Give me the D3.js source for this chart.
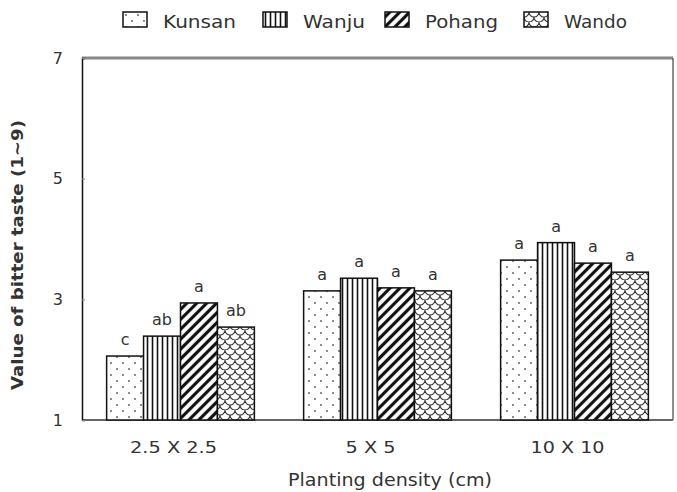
<!DOCTYPE html>
<html>
<head>
<meta charset="utf-8">
<script src="https://cdn.jsdelivr.net/npm/d3@7"></script>
<style>
  body { margin: 0; background: #fff; }
  text { font-family: "DejaVu Sans", "Liberation Sans", sans-serif; fill: #333; }
</style>
</head>
<body>
<div id="chart"></div>
<script>
var width = 677, height = 492;
var margin = {left: 82, right: 4, top: 58, bottom: 72};

// data
var densities = ["2.5 X 2.5", "5 X 5", "10 X 10"];
var sites = ["Kunsan", "Wanju", "Pohang", "Wando"];
var kunsan = [2.06, 3.14, 3.65];
var wanju  = [2.39, 3.35, 3.94];
var pohang = [2.94, 3.19, 3.60];
var wando  = [2.54, 3.14, 3.45];
var kunsanLetters = ["c", "a", "a"];
var wanjuLetters  = ["ab", "a", "a"];
var pohangLetters = ["a", "a", "a"];
var wandoLetters  = ["ab", "a", "a"];
var yTicks = [1, 3, 5, 7];

var values = [kunsan, wanju, pohang, wando];
var letters = [kunsanLetters, wanjuLetters, pohangLetters, wandoLetters];

var rows = [];
densities.forEach(function(g, gi){
  sites.forEach(function(s, si){
    rows.push({group: g, site: s, value: values[si][gi], letter: letters[si][gi]});
  });
});

var svg = d3.select('#chart').append('svg')
  .attr('width', width)
  .attr('height', height);

// fill patterns
var defs = svg.append('defs');

var pDots = defs.append('pattern').attr('id', 'p-Kunsan')
  .attr('patternUnits', 'userSpaceOnUse').attr('width', 12).attr('height', 12);
pDots.append('rect').attr('width', 12).attr('height', 12).attr('fill', '#fff');
pDots.append('circle').attr('cx', 3).attr('cy', 3).attr('r', 0.9).attr('fill', '#555');
pDots.append('circle').attr('cx', 9).attr('cy', 9).attr('r', 0.9).attr('fill', '#555');

var pVert = defs.append('pattern').attr('id', 'p-Wanju')
  .attr('patternUnits', 'userSpaceOnUse').attr('width', 5).attr('height', 5);
pVert.append('rect').attr('width', 5).attr('height', 5).attr('fill', '#fff');
pVert.append('line').attr('x1', 2.5).attr('x2', 2.5).attr('y1', 0).attr('y2', 5)
  .attr('stroke', '#111').attr('stroke-width', 1.6);

var pDiag = defs.append('pattern').attr('id', 'p-Pohang')
  .attr('patternUnits', 'userSpaceOnUse').attr('width', 7).attr('height', 7)
  .attr('patternTransform', 'rotate(-45)');
pDiag.append('rect').attr('width', 7).attr('height', 7).attr('fill', '#fff');
pDiag.append('line').attr('x1', 0).attr('x2', 7).attr('y1', 3.5).attr('y2', 3.5)
  .attr('stroke', '#111').attr('stroke-width', 3.2);

var pScale = defs.append('pattern').attr('id', 'p-Wando')
  .attr('patternUnits', 'userSpaceOnUse').attr('width', 10).attr('height', 10);
pScale.append('rect').attr('width', 10).attr('height', 10).attr('fill', '#fff');
pScale.append('path')
  .attr('d', 'M0,5 A5,5 0 0,0 10,5 M-5,10 A5,5 0 0,0 5,10 M5,10 A5,5 0 0,0 15,10 M-5,0 A5,5 0 0,0 5,0 M5,0 A5,5 0 0,0 15,0')
  .attr('fill', 'none').attr('stroke', '#333').attr('stroke-width', 1.1);

// scales
var x0 = d3.scaleBand()
  .domain(densities)
  .range([margin.left, width - margin.right])
  .paddingInner(0.25)
  .paddingOuter(0.125);

var x1 = d3.scaleBand()
  .domain(sites)
  .range([0, x0.bandwidth()]);

var y = d3.scaleLinear()
  .domain([1, 7])
  .range([height - margin.bottom, margin.top]);

// frame
svg.append('line')
  .attr('x1', margin.left).attr('x2', width - margin.right)
  .attr('y1', margin.top).attr('y2', margin.top)
  .attr('stroke', '#888').attr('stroke-width', 3);
svg.append('line')
  .attr('x1', width - margin.right).attr('x2', width - margin.right)
  .attr('y1', margin.top).attr('y2', height - margin.bottom)
  .attr('stroke', '#444').attr('stroke-width', 1.2);
svg.append('line')
  .attr('x1', margin.left).attr('x2', width - margin.right)
  .attr('y1', height - margin.bottom).attr('y2', height - margin.bottom)
  .attr('stroke', '#666').attr('stroke-width', 2);

// bars
svg.append('g').selectAll('rect')
  .data(rows)
  .enter()
  .append('rect')
  .attr('x', function(d){ return x0(d.group) + x1(d.site); })
  .attr('y', function(d){ return y(d.value); })
  .attr('width', x1.bandwidth())
  .attr('height', function(d){ return y(1) - y(d.value); })
  .attr('fill', function(d){ return 'url(#p-' + d.site + ')'; })
  .attr('stroke', '#111')
  .attr('stroke-width', 1.5);

// significance letters
svg.append('g').selectAll('text')
  .data(rows)
  .enter()
  .append('text')
  .attr('x', function(d){ return x0(d.group) + x1(d.site) + x1.bandwidth() / 2; })
  .attr('y', function(d){ return y(d.value) - 11; })
  .attr('text-anchor', 'middle')
  .attr('font-size', 16)
  .text(function(d){ return d.letter; });

// y axis
var yAxis = svg.append('g')
  .attr('transform', 'translate(' + margin.left + ',0)')
  .call(d3.axisLeft(y).tickValues(yTicks).tickSize(-3).tickPadding(19).tickFormat(d3.format('d')));
yAxis.select('.domain').attr('stroke', '#111').attr('stroke-width', 1.5);
yAxis.selectAll('.tick line').attr('stroke', '#888');
yAxis.selectAll('text').attr('font-size', 16).attr('fill', '#333')
  .style('font-family', '"DejaVu Sans", sans-serif');

// x labels
var xLabelWidth = [87, 50, 74];
svg.append('g').selectAll('text')
  .data(densities)
  .enter()
  .append('text')
  .attr('x', function(d){ return x0(d) + x0.bandwidth() / 2 - 7; })
  .attr('y', 453)
  .attr('text-anchor', 'middle')
  .attr('font-size', 16)
  .attr('textLength', function(d, i){ return xLabelWidth[i]; })
  .attr('lengthAdjust', 'spacingAndGlyphs')
  .text(function(d){ return d; });

svg.append('text')
  .attr('x', 390).attr('y', 486)
  .attr('text-anchor', 'middle')
  .attr('font-size', 17)
  .attr('fill', '#222')
  .attr('textLength', 204)
  .attr('lengthAdjust', 'spacingAndGlyphs')
  .text('Planting density (cm)');

svg.append('text')
  .attr('transform', 'translate(23,255) rotate(-90)')
  .attr('text-anchor', 'middle')
  .attr('font-size', 16)
  .attr('font-weight', 'bold')
  .attr('textLength', 270)
  .attr('lengthAdjust', 'spacingAndGlyphs')
  .text('Value of bitter taste (1~9)');

// legend
var legendX = [123, 263, 385, 524];
var legendW = [73, 62, 73, 63];
var legend = svg.append('g').selectAll('g')
  .data(sites)
  .enter()
  .append('g')
  .attr('transform', function(d, i){ return 'translate(' + legendX[i] + ',12)'; });
legend.append('rect')
  .attr('width', 24).attr('height', 15)
  .attr('fill', function(d){ return 'url(#p-' + d + ')'; })
  .attr('stroke', '#111').attr('stroke-width', 1.5);
legend.append('text')
  .attr('x', 40).attr('y', 16)
  .attr('font-size', 17)
  .attr('textLength', function(d, i){ return legendW[i]; })
  .attr('lengthAdjust', 'spacingAndGlyphs')
  .text(function(d){ return d; });
</script>
</body>
</html>
